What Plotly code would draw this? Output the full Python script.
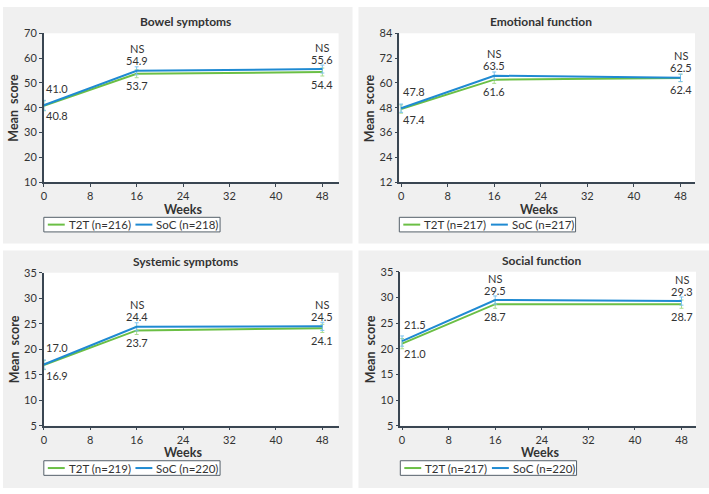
import plotly.graph_objects as go

# --- data ---
weeks = [0, 16, 48]
titles = ["Bowel symptoms", "Emotional function", "Systemic symptoms", "Social function"]

t2t_bowel = [40.8, 53.7, 54.4]
soc_bowel = [41.0, 54.9, 55.6]
t2t_emotional = [47.4, 61.6, 62.4]
soc_emotional = [47.8, 63.5, 62.5]
t2t_systemic = [16.9, 23.7, 24.1]
soc_systemic = [17.0, 24.4, 24.5]
t2t_social = [21.0, 28.7, 28.7]
soc_social = [21.5, 29.5, 29.3]

# approximate half-width of the small error bars
err_bowel = [2.0, 1.6, 1.6]
err_emotional = [2.0, 1.8, 1.8]
err_systemic = [0.9, 0.8, 0.8]
err_social = [1.0, 0.8, 0.8]

n_t2t = [216, 217, 219, 217]
n_soc = [218, 217, 220, 220]
sig_labels = ["", "NS", "NS"]

y_ranges = [[10, 70], [12, 84], [5, 35], [5, 35]]
y_dticks = [10, 12, 5, 5]

t2t_all = [t2t_bowel, t2t_emotional, t2t_systemic, t2t_social]
soc_all = [soc_bowel, soc_emotional, soc_systemic, soc_social]
err_all = [err_bowel, err_emotional, err_systemic, err_social]

GREEN = "#6bbf45"
BLUE = "#1f8ad2"
GREEN_ERR = "#a9dc8c"
BLUE_ERR = "#7cc3ee"
AXIS = "#3a4652"
TXT = "#333333"
FONT = "Lato"
W, H = 709, 494

# pixel boxes (left, top, right, bottom)
plot_px = [(41, 27, 337, 180), (398, 27, 695, 180), (41, 273, 337, 430), (399, 272, 696, 430)]
card_px = [(0, 0, 351, 243), (357, 0, 709, 243), (0, 250, 351, 494), (357, 250, 709, 494)]
x_ranges = [[0, 50.8], [-0.3, 50.5], [0, 50.8], [-0.3, 50.5]]


def px(x):
    return x / W


def py(y):
    return 1 - y / H


def note(x, y, text, size=12, bold=False, **kw):
    return dict(x=px(x), y=py(y), xref="paper", yref="paper",
                text="<b>%s</b>" % text if bold else text, showarrow=False,
                xanchor=kw.pop("xanchor", "center"), yanchor="middle",
                font=dict(family=FONT, size=size, color=TXT), **kw)


def value_label(xa, ya, x, y, text, shift, first):
    return dict(x=x, y=y, xref=xa, yref=ya, text=text, showarrow=False,
                xanchor="left" if first else "center", yanchor="middle", yshift=shift,
                font=dict(family=FONT, size=11, color=TXT))


fig = go.Figure()
shapes = []
annotations = []

for i in range(4):
    l, t, r, b = plot_px[i]
    cl, ct, cr, cb = card_px[i]
    xa = "x" if i == 0 else "x%d" % (i + 1)
    ya = "y" if i == 0 else "y%d" % (i + 1)

    shapes.append(dict(type="rect", xref="paper", yref="paper", x0=px(cl), x1=px(cr),
                       y0=py(cb), y1=py(ct), fillcolor="#f0f0f0", line_width=0, layer="below"))
    shapes.append(dict(type="rect", xref="paper", yref="paper", x0=px(l), x1=px(r),
                       y0=py(b), y1=py(t), fillcolor="white", line_width=0, layer="below"))

    t2t = t2t_all[i]
    soc = soc_all[i]
    err = err_all[i]

    fig.add_trace(go.Scatter(
        x=weeks, y=t2t, mode="lines", xaxis=xa, yaxis=ya,
        line=dict(color=GREEN, width=2),
        error_y=dict(type="data", array=err, color=GREEN_ERR, thickness=1, width=2),
        cliponaxis=False, hoverinfo="skip"))
    fig.add_trace(go.Scatter(
        x=weeks, y=soc, mode="lines", xaxis=xa, yaxis=ya,
        line=dict(color=BLUE, width=2),
        error_y=dict(type="data", array=err, color=BLUE_ERR, thickness=1, width=2),
        cliponaxis=False, hoverinfo="skip"))

    # value labels: SoC above, T2T below, significance above SoC
    for k, wk in enumerate(weeks):
        first = k == 0
        annotations.append(value_label(xa, ya, wk, soc[k], "%.1f" % soc[k],
                                       17 if first else 10, first))
        annotations.append(value_label(xa, ya, wk, t2t[k], "%.1f" % t2t[k],
                                       -10 if first else -12, first))
        if sig_labels[k]:
            annotations.append(value_label(xa, ya, wk, soc[k], sig_labels[k], 22, False))

    axis_common = dict(showline=True, linecolor=AXIS, linewidth=1.5, ticks="outside",
                       ticklen=3, tickwidth=1, tickcolor=AXIS, showgrid=False, zeroline=False,
                       tickfont=dict(family=FONT, size=11, color=TXT), fixedrange=True)
    fig.layout[("xaxis" if i == 0 else "xaxis%d" % (i + 1))] = dict(
        domain=[px(l), px(r)], anchor=ya, range=x_ranges[i], tickmode="linear",
        tick0=0, dtick=8, **axis_common)
    fig.layout[("yaxis" if i == 0 else "yaxis%d" % (i + 1))] = dict(
        domain=[py(b), py(t)], anchor=xa, range=y_ranges[i], tickmode="linear",
        tick0=y_ranges[i][0], dtick=y_dticks[i], **axis_common)

    # panel title, axis titles
    annotations.append(note((l + r) / 2 - 6, t - 12, titles[i], size=12, bold=True))
    annotations.append(note((l + r) / 2 - 8, b + 27.5, "Weeks", size=12.5, bold=True))
    annotations.append(note(l - 30, (t + b) / 2, "Mean\u00a0 score", size=12.5, bold=True,
                            textangle=-90))

    # legend box drawn by hand
    lb_t, lb_b = b + 36, b + 51
    shapes.append(dict(type="rect", xref="paper", yref="paper", x0=px(l), x1=px(l + 177),
                       y0=py(lb_b), y1=py(lb_t), line=dict(color="#55606a", width=1),
                       fillcolor="white"))
    ym = (lb_t + lb_b) / 2
    for off, col, lab in [(4, GREEN, "T2T (n=%d)" % n_t2t[i]), (92, BLUE, "SoC (n=%d)" % n_soc[i])]:
        shapes.append(dict(type="line", xref="paper", yref="paper", x0=px(l + off),
                           x1=px(l + off + 17), y0=py(ym), y1=py(ym),
                           line=dict(color=col, width=2)))
        annotations.append(note(l + off + 19, ym, lab, size=11.5, xanchor="left"))

fig.update_layout(width=W, height=H, margin=dict(l=0, r=0, t=0, b=0),
                  paper_bgcolor="white", plot_bgcolor="white", showlegend=False,
                  shapes=shapes, annotations=annotations,
                  font=dict(family=FONT, color=TXT))

# drop the browser's default body margin so the figure sits at the page corner
fig.write_html("out.html", config={"displayModeBar": False},
               post_script="document.body.style.margin='0';")
